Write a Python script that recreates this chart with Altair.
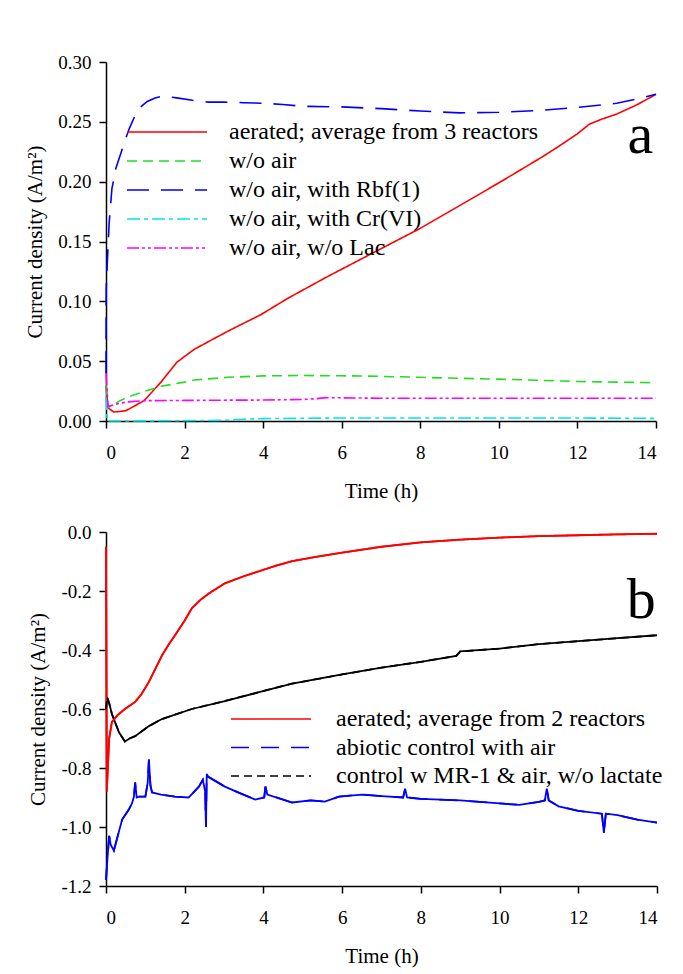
import altair as alt
import pandas as pd

FONT = "Liberation Serif"

# ---------------- Panel a data ----------------
a_names = ["aerated; average from 3 reactors", "w/o air", "w/o air, with Rbf(1)",
           "w/o air, with Cr(VI)", "w/o air, w/o Lac"]
a_colors = ["#ff0000", "#22dd22", "#0000ff", "#00e5e5", "#ff00ff"]
a_dashes = [[1, 0], [10, 6], [22, 12], [13, 4, 4, 4], [12, 3, 3, 3, 3, 3]]

a_red_t = [0, 0.05, 0.2, 0.5, 0.97, 1.4, 1.8, 2.25, 3.1, 3.95, 4.6, 5.6, 7.0, 8.0, 9.0,
           10.0, 11.1, 11.5, 12.0, 12.3, 12.6, 13.0, 13.5, 14.0]
a_red_v = [0.03, 0.011, 0.0075, 0.0085, 0.017, 0.0325, 0.049, 0.060, 0.075, 0.089, 0.102,
           0.120, 0.144, 0.161, 0.180, 0.199, 0.2206, 0.229, 0.240, 0.248, 0.252, 0.2565,
           0.264, 0.273]

a_green_t = [0, 0.05, 0.3, 0.55, 1.0, 1.4, 2.0, 2.25, 3.1, 4.0, 5.0, 6.0, 7.0, 8.0, 9.0,
             10.0, 11.0, 12.0, 13.0, 14.0]
a_green_v = [0.03, 0.011, 0.016, 0.020, 0.025, 0.029, 0.0325, 0.0343, 0.0365, 0.0377, 0.038,
             0.0378, 0.0373, 0.0365, 0.0357, 0.035, 0.034, 0.033, 0.0325, 0.032]

a_blue_t = [0, 0.005, 0.03, 0.08, 0.15, 0.25, 0.37, 0.48, 0.6, 0.75, 0.9, 1.05, 1.25, 1.45,
            1.8, 2.2, 2.6, 3.0, 3.5, 4.0, 4.5, 5.0, 6.0, 7.0, 8.0, 9.0, 10.0, 11.0, 12.0,
            13.0, 13.5, 14.0]
a_blue_v = [0.04, 0.11, 0.13, 0.165, 0.194, 0.211, 0.223, 0.234, 0.245, 0.256, 0.263, 0.267,
            0.270, 0.2715, 0.270, 0.268, 0.2665, 0.2665, 0.266, 0.2655, 0.2645, 0.263, 0.2625,
            0.261, 0.259, 0.2575, 0.258, 0.2595, 0.262, 0.2655, 0.269, 0.273]

a_cyan_t = [0, 0.03, 0.5, 1.5, 3.0, 3.5, 4.0, 6.0, 8.0, 10.0, 12.0, 14.0]
a_cyan_v = [0.02, 0.0, 0.0, 0.0002, 0.0005, 0.0015, 0.002, 0.0025, 0.0025, 0.0025, 0.0025,
            0.0022]

a_mag_t = [0, 0.05, 0.3, 0.55, 1.0, 2.0, 3.0, 4.0, 5.0, 5.3, 5.6, 7.0, 9.0, 11.0, 13.0, 14.0]
a_mag_v = [0.04, 0.012, 0.0145, 0.016, 0.017, 0.0172, 0.0174, 0.0175, 0.018, 0.0185, 0.0195,
           0.019, 0.019, 0.019, 0.019, 0.019]

a_ticks_y = [0.00, 0.05, 0.10, 0.15, 0.20, 0.25, 0.30]

# ---------------- Panel b data ----------------
b_names = ["aerated; average from 2 reactors", "abiotic control with air",
           "control w MR-1 & air, w/o lactate"]
b_colors = ["#ff0000", "#0000ff", "#000000"]
b_dashes = [[1, 0], [18, 12], [8, 5]]

b_red_t = [0, 0.02, 0.08, 0.15, 0.3, 0.48, 0.74, 0.9, 1.09, 1.25, 1.42, 1.6, 1.75, 2.0, 2.18,
           2.4, 2.62, 3.02, 3.5, 3.89, 4.3, 4.73, 5.3, 6.0, 7.0, 8.0, 9.0, 10.0, 11.0, 12.0,
           13.0, 14.0]
b_red_v = [-0.05, -0.88, -0.70, -0.644, -0.62, -0.600, -0.576, -0.55, -0.508, -0.465, -0.419,
           -0.38, -0.351, -0.30, -0.259, -0.23, -0.208, -0.174, -0.150, -0.133, -0.115, -0.099,
           -0.085, -0.070, -0.050, -0.035, -0.026, -0.019, -0.014, -0.011, -0.008, -0.006]

b_blue_t = [0, 0.03, 0.08, 0.12, 0.2, 0.3, 0.41, 0.58, 0.66, 0.71, 0.74, 0.78, 0.84, 1.0, 1.06,
            1.09, 1.13, 1.17, 1.4, 1.75, 2.1, 2.36, 2.46, 2.52, 2.54, 2.56, 2.6, 3.02, 3.4,
            3.79, 4.02, 4.05, 4.1, 4.73, 5.2, 5.56, 5.92, 6.5, 7.0, 7.55, 7.6, 7.65, 8.0, 9.0,
            10.0, 10.5, 11.0, 11.15, 11.2, 11.25, 11.5, 12.0, 12.6, 12.65, 12.7, 13.0, 13.5,
            14.0]
b_blue_v = [-1.18, -1.12, -1.03, -1.06, -1.08, -1.03, -0.975, -0.941, -0.92, -0.897, -0.849,
            -0.90, -0.897, -0.897, -0.85, -0.771, -0.86, -0.883, -0.89, -0.897, -0.90, -0.863,
            -0.84, -0.88, -1.0, -0.82, -0.83, -0.863, -0.885, -0.907, -0.90, -0.863, -0.89,
            -0.917, -0.91, -0.914, -0.897, -0.89, -0.895, -0.90, -0.87, -0.90, -0.905, -0.91,
            -0.92, -0.925, -0.915, -0.91, -0.87, -0.91, -0.93, -0.945, -0.955, -1.02, -0.955,
            -0.96, -0.975, -0.985]

b_black_t = [0, 0.03, 0.08, 0.15, 0.33, 0.48, 0.6, 0.74, 1.09, 1.42, 2.18, 3.02, 3.89, 4.73,
             6.0, 7.0, 8.0, 8.9, 9.0, 10.0, 11.0, 12.0, 13.0, 14.0]
b_black_v = [-0.60, -0.56, -0.58, -0.617, -0.679, -0.71, -0.70, -0.692, -0.658, -0.634, -0.600,
             -0.573, -0.543, -0.514, -0.483, -0.46, -0.44, -0.42, -0.405, -0.395, -0.38, -0.37,
             -0.36, -0.35]

b_ticks_y = [0.0, -0.2, -0.4, -0.6, -0.8, -1.0, -1.2]

x_ticks = [0, 2, 4, 6, 8, 10, 12, 14]


def to_frame(names, series):
    rows = []
    for name, (ts, vs) in zip(names, series):
        for t, v in zip(ts, vs):
            rows.append({"series": name, "t": t, "v": v})
    return pd.DataFrame(rows)


df_a = to_frame(a_names, [(a_red_t, a_red_v), (a_green_t, a_green_v), (a_blue_t, a_blue_v),
                          (a_cyan_t, a_cyan_v), (a_mag_t, a_mag_v)])
df_b = to_frame(b_names, [(b_red_t, b_red_v), (b_blue_t, b_blue_v), (b_black_t, b_black_v)])

x_enc = alt.X("t:Q", scale=alt.Scale(domain=[0, 14], nice=False),
              axis=alt.Axis(values=x_ticks, format="d", title="Time (h)"))


def legend(x, y, offset, row_pad):
    return alt.Legend(orient="none", legendX=x, legendY=y, title=None,
                      symbolType="M-8,0H8", symbolSize=100, symbolStrokeWidth=1.5,
                      labelFont=FONT, labelFontSize=24, labelColor="black",
                      labelOffset=offset, rowPadding=row_pad, padding=0, labelLimit=500)


# Panel a
leg_a = legend(49, 58, 50, 5)
lines_a = alt.Chart(df_a).mark_line(strokeWidth=1.6).encode(
    x=x_enc,
    y=alt.Y("v:Q", scale=alt.Scale(domain=[0, 0.30], nice=False),
            axis=alt.Axis(values=a_ticks_y, format=".2f", title="Current density (A/m²)")),
    color=alt.Color("series:N", scale=alt.Scale(domain=a_names, range=a_colors),
                    legend=leg_a, sort=a_names),
    strokeDash=alt.StrokeDash("series:N", scale=alt.Scale(domain=a_names, range=a_dashes),
                              legend=leg_a, sort=a_names),
)
lab_a = alt.Chart(pd.DataFrame({"t": [13.6], "v": [0.224], "s": ["a"]})).mark_text(
    font=FONT, fontSize=58, align="center", baseline="alphabetic", color="black"
).encode(x="t:Q", y="v:Q", text="s:N")
panel_a = alt.layer(lines_a, lab_a).properties(width=550, height=359)

# Panel b
y_b = alt.Y("v:Q", scale=alt.Scale(domain=[-1.2, 0.0], nice=False),
            axis=alt.Axis(values=b_ticks_y,
                          labelExpr="replace(format(datum.value, '.1f'), '\u2212', '-')",
                          title="Current density (A/m²)"))
# solid traces (the noisy recorded curves look solid)
solid_layers = [
    alt.Chart(df_b).transform_filter(alt.datum.series == name)
    .mark_line(strokeWidth=1.8, color=col).encode(x=x_enc, y=y_b)
    for name, col in zip(b_names, b_colors)
]
leg_b = legend(153, 175, 53, 4.5)
dash_b = alt.Chart(df_b).mark_line(strokeWidth=1.8).encode(
    x=x_enc, y=y_b,
    color=alt.Color("series:N", scale=alt.Scale(domain=b_names, range=b_colors),
                    legend=leg_b, sort=b_names),
    strokeDash=alt.StrokeDash("series:N", scale=alt.Scale(domain=b_names, range=b_dashes),
                              legend=leg_b, sort=b_names),
)
lab_b = alt.Chart(pd.DataFrame({"t": [13.6], "v": [-0.29], "s": ["b"]})).mark_text(
    font=FONT, fontSize=58, align="center", baseline="alphabetic", color="black"
).encode(x="t:Q", y="v:Q", text="s:N")
panel_b = alt.layer(*solid_layers, dash_b, lab_b).properties(width=551, height=354)

chart = alt.vconcat(panel_a, panel_b, spacing=22).resolve_scale(
    color="independent", strokeDash="independent"
).resolve_legend(color="independent", strokeDash="independent").properties(
    padding={"left": 24, "top": 53, "right": 5, "bottom": 5}, background="white"
).configure_axis(
    labelFont=FONT, labelFontSize=19, labelColor="black",
    titleFont=FONT, titleFontSize=21, titleFontWeight="normal", titleColor="black",
    domainColor="black", tickColor="black", domainWidth=1.5, tickWidth=1.5, tickSize=7,
    grid=False, labelPadding=8, titlePadding=12,
).configure_axisX(labelPadding=15, titlePadding=18).configure_view(stroke=None)

chart.save("out.html", embed_options={"renderer": "svg", "actions": False})
